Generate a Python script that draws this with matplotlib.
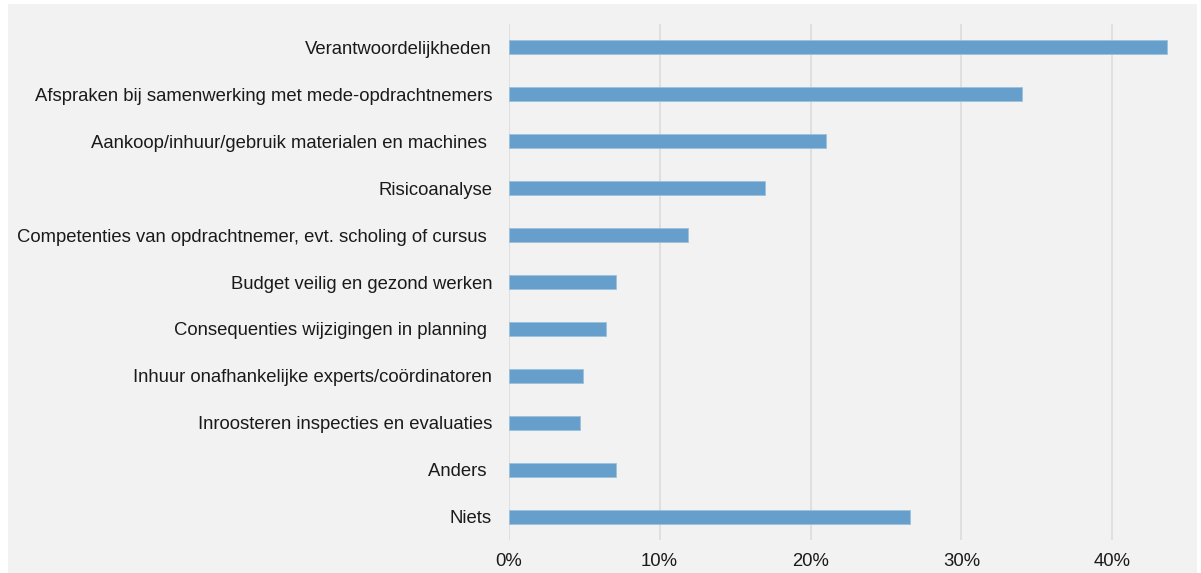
import matplotlib
matplotlib.use("Agg")
import matplotlib.pyplot as plt
from matplotlib.patches import Rectangle
from matplotlib.ticker import FuncFormatter

categories = [
    "Verantwoordelijkheden",
    "Afspraken bij samenwerking met mede-opdrachtnemers",
    "Aankoop/inhuur/gebruik materialen en machines ",
    "Risicoanalyse",
    "Competenties van opdrachtnemer, evt. scholing of cursus ",
    "Budget veilig en gezond werken",
    "Consequenties wijzigingen in planning ",
    "Inhuur onafhankelijke experts/coördinatoren",
    "Inroosteren inspecties en evaluaties",
    "Anders ",
    "Niets",
]
values = [0.436, 0.340, 0.210, 0.170, 0.119, 0.071, 0.0645, 0.049, 0.047, 0.071, 0.266]
xticks = [0, 0.1, 0.2, 0.3, 0.4]

plt.rcParams['font.family'] = ['Liberation Sans', 'DejaVu Sans']

fig = plt.figure(figsize=(12.01, 5.73), dpi=100, facecolor='white')
fig.patches.append(Rectangle((8/1201, 0), (1197-8)/1201, 1-4/573,
                             transform=fig.transFigure, facecolor='#f2f2f2',
                             edgecolor='none', zorder=-10))
ax = fig.add_axes([508.7/1201, 1-540/573, (1187.8-508.7)/1201, (540-24)/573])
ax.set_facecolor('#f2f2f2')
ax.patch.set_alpha(0)

y = list(range(len(categories)))
ax.barh(y, values, height=0.3, color='#669fcb', edgecolor='#9cc0dc', linewidth=0.6, zorder=3)
ax.set_yticks(y)
ax.set_yticklabels(categories, fontsize=13.3, color='#1a1a1a')
ax.set_ylim(len(categories) - 0.5, -0.5)
ax.set_xlim(0, 0.45)
ax.set_xticks(xticks)
ax.xaxis.set_major_formatter(FuncFormatter(lambda v, p: f"{v*100:.0f}%"))
ax.tick_params(axis='x', labelsize=13.3, colors='#1a1a1a', length=0, pad=9)
ax.tick_params(axis='y', length=0, pad=12)
ax.grid(axis='x', color='#dcdcdc', linewidth=1.2, zorder=0)
for s in ax.spines.values():
    s.set_visible(False)

fig.savefig("out.png", dpi=100, facecolor='white')
